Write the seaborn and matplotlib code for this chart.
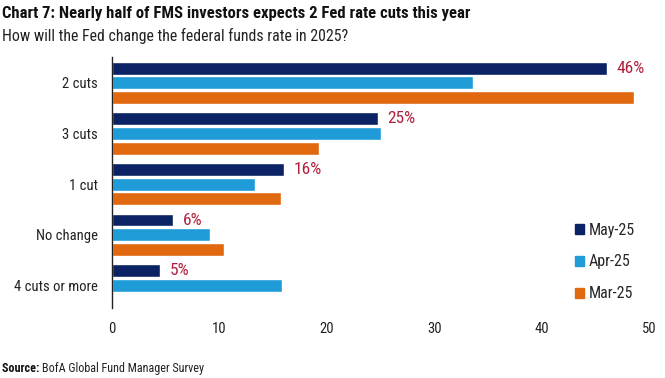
import matplotlib
matplotlib.use("Agg")
import matplotlib.pyplot as plt
import seaborn as sns
import pandas as pd
from matplotlib.patches import Patch

# data
categories = ["2 cuts", "3 cuts", "1 cut", "No change", "4 cuts or more"]
may_25 = [46.0, 24.7, 16.0, 5.7, 4.5]
apr_25 = [33.6, 25.0, 13.3, 9.1, 15.8]
mar_25 = [48.6, 19.3, 15.7, 10.4, 0.0]
may_labels = ["46%", "25%", "16%", "6%", "5%"]
series = ["May-25", "Apr-25", "Mar-25"]
colors = ["#0b2265", "#1f9bd7", "#e0680f"]

df = pd.DataFrame({
    "answer": categories * 3,
    "value": may_25 + apr_25 + mar_25,
    "month": [s for s in series for _ in categories],
})

sns.set_style("white")
plt.rcParams["font.family"] = ["Roboto Condensed", "Roboto", "DejaVu Sans"]

fig = plt.figure(figsize=(6.65, 3.78), dpi=100)
ax = fig.add_axes([0.1684, 0.185, 0.8083, 0.664])

sns.barplot(data=df, y="answer", x="value", hue="month", order=categories,
            hue_order=series, palette=colors, orient="h", width=0.87,
            gap=0.12, saturation=1, ax=ax, legend=False, errorbar=None)

# labels for the latest month
for i, (v, lab) in enumerate(zip(may_25, may_labels)):
    ax.text(v + 0.9, i - 0.29, lab, color="#b0203c", fontsize=12.5,
            va="center", ha="left")

ax.set_xlim(0, 50)
ax.set_ylim(4.45, -0.51)
ax.set_xticks([0, 10, 20, 30, 40, 50])
ax.set_xlabel("")
ax.set_ylabel("")
ax.tick_params(axis="both", length=0, labelsize=10.5, colors="#222222")
ax.tick_params(axis="x", pad=10)
ax.tick_params(axis="y", pad=10)
for s in ["top", "right", "bottom"]:
    ax.spines[s].set_visible(False)
ax.spines["left"].set_color("#222222")
ax.spines["left"].set_linewidth(1.0)

handles = [Patch(color=c, label=s) for c, s in zip(colors, series)]
ax.legend(handles=handles, loc="lower right", bbox_to_anchor=(1.0, -0.03),
          frameon=False, fontsize=11.5, handlelength=0.6, handleheight=0.6,
          handletextpad=0.3, labelspacing=1.05)

fig.text(0.003, 0.963, "Chart 7: Nearly half of FMS investors expects 2 Fed rate cuts this year",
         fontsize=12, fontweight="bold", va="center", color="#111111")
fig.text(0.003, 0.905, "How will the Fed change the federal funds rate in 2025?",
         fontsize=11.4, va="center", color="#222222")
src = fig.text(0.003, 0.026, "Source: ", fontsize=8.7, fontweight="bold", va="center", color="#111111")
fig.canvas.draw()
bb = src.get_window_extent().transformed(fig.transFigure.inverted())
fig.text(bb.x1, 0.026, "BofA Global Fund Manager Survey", fontsize=8.7, va="center", color="#222222")

fig.savefig("out.png", dpi=100, facecolor="white")
